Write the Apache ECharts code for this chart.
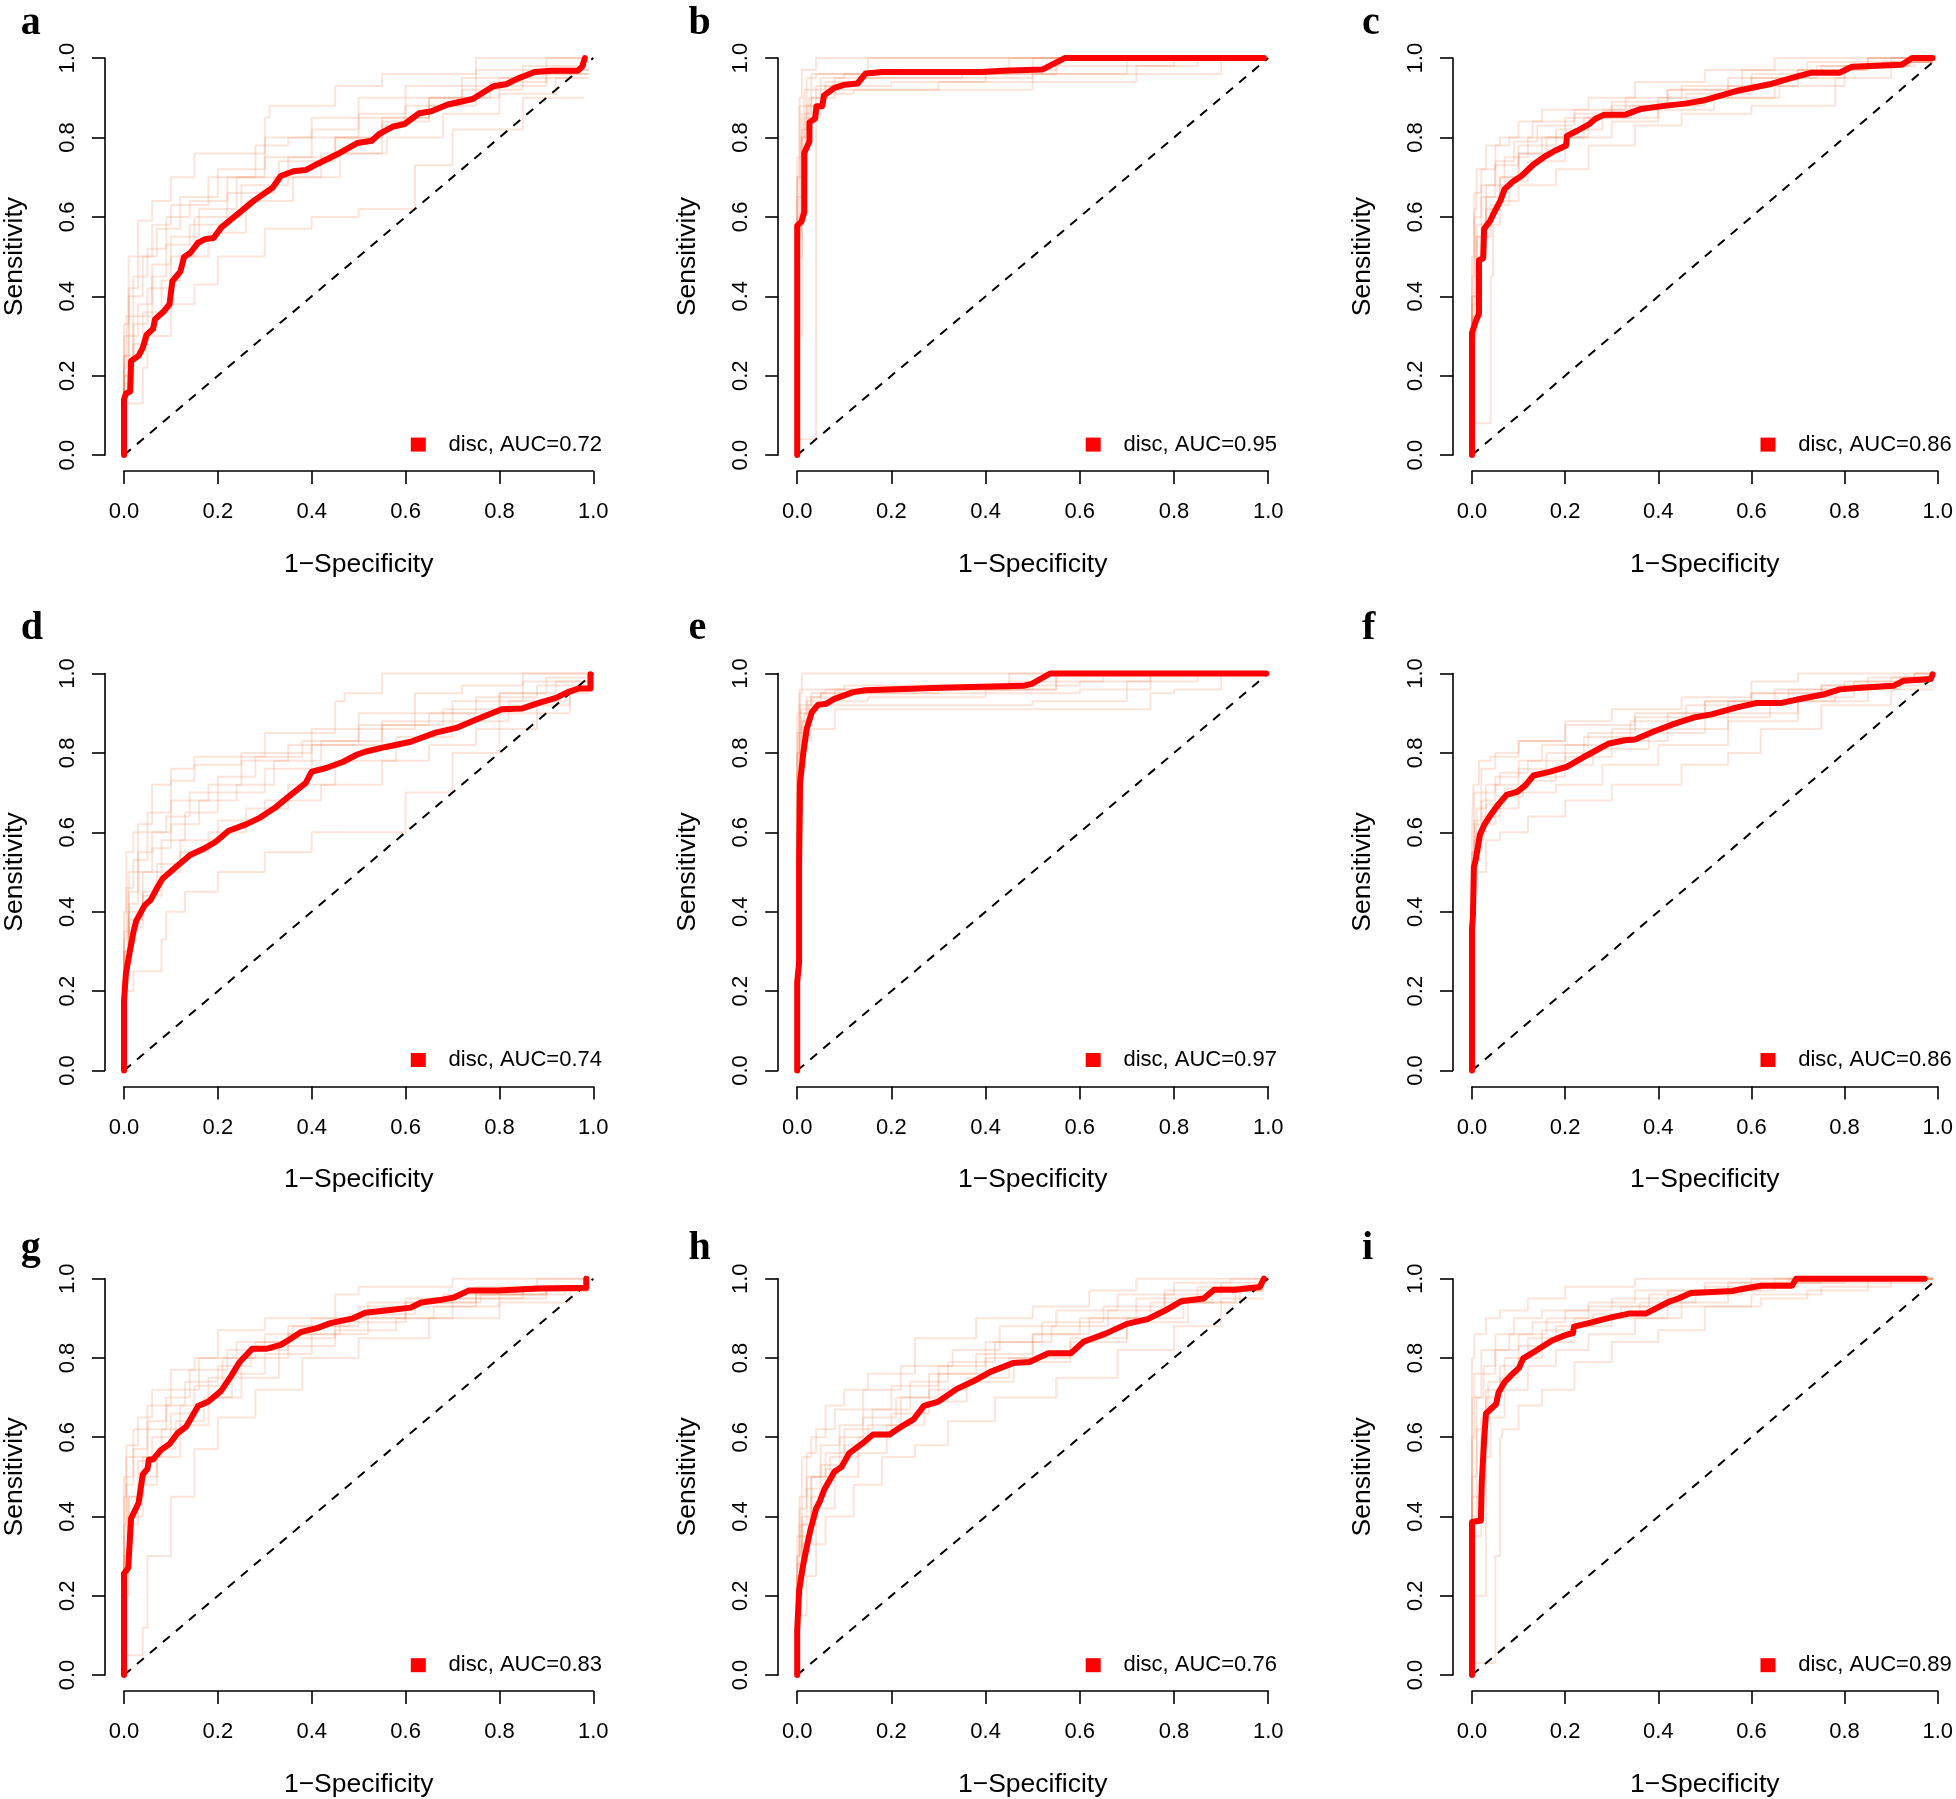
<!DOCTYPE html>
<html>
<head>
<meta charset="utf-8">
<script src="https://cdn.jsdelivr.net/npm/echarts@6/dist/echarts.min.js"></script>
<style>
html, body { margin: 0; padding: 0; background: #fff; }
#chart { width: 1956px; height: 1799px; }
</style>
</head>
<body>
<div id="chart"></div>
<script>
// panel labels and AUC values
const panelLetters = ['a', 'b', 'c', 'd', 'e', 'f', 'g', 'h', 'i'];
const aucValues = ['0.72', '0.95', '0.86', '0.74', '0.97', '0.86', '0.83', '0.76', '0.89'];

// main ROC curves, [1-specificity, sensitivity]
const rocA = [[0,0],[0,0.14],[0.004,0.155],[0.013,0.16],[0.015,0.237],[0.031,0.25],[0.04,0.27],[0.048,0.303],[0.062,0.318],[0.066,0.342],[0.084,0.361],[0.097,0.38],[0.103,0.438],[0.12,0.462],[0.128,0.499],[0.141,0.509],[0.158,0.535],[0.173,0.544],[0.191,0.547],[0.207,0.573],[0.242,0.607],[0.277,0.641],[0.317,0.674],[0.334,0.703],[0.361,0.715],[0.387,0.718],[0.413,0.734],[0.453,0.757],[0.497,0.786],[0.528,0.792],[0.545,0.81],[0.572,0.827],[0.598,0.834],[0.629,0.861],[0.655,0.866],[0.69,0.883],[0.743,0.897],[0.787,0.929],[0.814,0.934],[0.84,0.949],[0.875,0.965],[0.91,0.968],[0.967,0.968],[0.976,0.978],[0.982,1]];
const rocB = [[0,0],[0,0.578],[0.009,0.588],[0.015,0.612],[0.015,0.761],[0.026,0.79],[0.026,0.838],[0.038,0.848],[0.041,0.879],[0.053,0.879],[0.057,0.906],[0.079,0.925],[0.101,0.933],[0.128,0.936],[0.145,0.961],[0.181,0.965],[0.304,0.965],[0.392,0.965],[0.436,0.968],[0.52,0.971],[0.568,1],[0.991,1]];
const rocC = [[0,0],[0,0.308],[0.008,0.337],[0.015,0.356],[0.015,0.491],[0.024,0.496],[0.026,0.57],[0.039,0.59],[0.048,0.612],[0.061,0.641],[0.07,0.67],[0.088,0.689],[0.106,0.703],[0.132,0.732],[0.155,0.751],[0.177,0.766],[0.202,0.78],[0.204,0.804],[0.226,0.817],[0.252,0.834],[0.266,0.848],[0.283,0.857],[0.328,0.857],[0.363,0.872],[0.408,0.879],[0.461,0.886],[0.496,0.893],[0.567,0.917],[0.639,0.934],[0.683,0.949],[0.727,0.963],[0.789,0.963],[0.816,0.978],[0.923,0.983],[0.945,1],[0.989,1]];
const rocD = [[0,0],[0,0.175],[0.004,0.243],[0.011,0.291],[0.02,0.348],[0.026,0.377],[0.044,0.416],[0.057,0.43],[0.07,0.459],[0.082,0.483],[0.11,0.512],[0.141,0.543],[0.172,0.56],[0.194,0.575],[0.223,0.604],[0.26,0.62],[0.29,0.637],[0.321,0.661],[0.356,0.695],[0.387,0.724],[0.4,0.753],[0.431,0.762],[0.466,0.777],[0.497,0.796],[0.514,0.803],[0.558,0.815],[0.611,0.828],[0.664,0.851],[0.708,0.863],[0.752,0.885],[0.805,0.91],[0.849,0.912],[0.884,0.926],[0.919,0.938],[0.946,0.953],[0.968,0.962],[0.994,0.962],[0.994,0.998]];
const rocE = [[0,0],[0,0.223],[0.004,0.271],[0.004,0.512],[0.006,0.724],[0.013,0.8],[0.02,0.859],[0.031,0.902],[0.044,0.921],[0.062,0.924],[0.079,0.936],[0.119,0.953],[0.145,0.958],[0.304,0.964],[0.48,0.969],[0.498,0.974],[0.537,1],[0.996,1]];
const rocF = [[0,0],[0,0.358],[0.002,0.387],[0.004,0.512],[0.008,0.531],[0.017,0.594],[0.026,0.618],[0.039,0.642],[0.057,0.671],[0.075,0.695],[0.097,0.702],[0.115,0.719],[0.132,0.743],[0.168,0.753],[0.203,0.765],[0.239,0.789],[0.266,0.806],[0.292,0.823],[0.328,0.832],[0.35,0.834],[0.39,0.854],[0.434,0.873],[0.479,0.89],[0.514,0.897],[0.567,0.914],[0.612,0.926],[0.665,0.926],[0.701,0.935],[0.754,0.947],[0.79,0.96],[0.834,0.964],[0.905,0.969],[0.927,0.982],[0.985,0.986],[0.989,0.998]];
const rocG = [[0,0],[0,0.256],[0.009,0.27],[0.015,0.395],[0.031,0.434],[0.04,0.506],[0.05,0.52],[0.053,0.544],[0.062,0.544],[0.079,0.568],[0.097,0.583],[0.114,0.61],[0.132,0.626],[0.158,0.679],[0.18,0.69],[0.207,0.717],[0.229,0.756],[0.246,0.789],[0.273,0.823],[0.303,0.823],[0.334,0.833],[0.356,0.849],[0.378,0.866],[0.413,0.876],[0.44,0.888],[0.488,0.9],[0.514,0.914],[0.567,0.921],[0.611,0.927],[0.633,0.94],[0.673,0.946],[0.704,0.953],[0.734,0.97],[0.796,0.97],[0.884,0.975],[0.985,0.977],[0.985,1]];
const rocH = [[0,0],[0,0.112],[0.004,0.213],[0.013,0.28],[0.022,0.333],[0.028,0.366],[0.04,0.419],[0.048,0.438],[0.057,0.467],[0.079,0.513],[0.094,0.525],[0.11,0.559],[0.137,0.583],[0.161,0.607],[0.196,0.607],[0.22,0.626],[0.247,0.645],[0.269,0.679],[0.3,0.69],[0.339,0.722],[0.374,0.741],[0.41,0.765],[0.458,0.787],[0.493,0.79],[0.533,0.812],[0.581,0.812],[0.608,0.841],[0.656,0.862],[0.7,0.886],[0.744,0.898],[0.78,0.919],[0.815,0.943],[0.863,0.95],[0.885,0.972],[0.93,0.972],[0.982,0.979],[0.991,1]];
const rocI = [[0,0],[0,0.386],[0.019,0.39],[0.021,0.486],[0.026,0.592],[0.03,0.66],[0.052,0.684],[0.057,0.713],[0.07,0.739],[0.088,0.761],[0.101,0.775],[0.11,0.799],[0.137,0.818],[0.172,0.844],[0.199,0.857],[0.217,0.863],[0.219,0.879],[0.257,0.89],[0.301,0.903],[0.337,0.912],[0.373,0.912],[0.425,0.943],[0.443,0.95],[0.47,0.964],[0.559,0.969],[0.594,0.977],[0.621,0.982],[0.687,0.982],[0.696,1],[0.972,1]];

// bootstrap curves (faint)
const bootA = [
  [[0,0],[0.01,0.33],[0.03,0.5],[0.06,0.59],[0.1,0.64],[0.15,0.7],[0.3,0.76],[0.31,0.85],[0.45,0.88],[0.55,0.93],[0.75,0.96],[0.8,1],[0.98,1]],
  [[0,0],[0.01,0.25],[0.04,0.4],[0.07,0.5],[0.12,0.57],[0.2,0.65],[0.3,0.72],[0.4,0.8],[0.5,0.85],[0.6,0.9],[0.75,0.93],[0.9,0.97],[0.98,1]],
  [[0,0],[0.02,0.2],[0.05,0.33],[0.1,0.42],[0.15,0.5],[0.25,0.6],[0.35,0.68],[0.45,0.75],[0.55,0.8],[0.65,0.85],[0.8,0.9],[0.95,0.95],[0.99,0.97]],
  [[0,0],[0.04,0.13],[0.05,0.22],[0.1,0.3],[0.15,0.38],[0.2,0.43],[0.3,0.5],[0.4,0.57],[0.5,0.6],[0.62,0.62],[0.7,0.73],[0.85,0.82],[0.98,0.9]],
  [[0,0],[0.01,0.3],[0.03,0.42],[0.06,0.5],[0.1,0.58],[0.18,0.63],[0.28,0.7],[0.35,0.78],[0.5,0.8],[0.65,0.85],[0.75,0.88],[0.9,0.93],[0.99,0.96]],
  [[0,0],[0.02,0.25],[0.06,0.35],[0.09,0.45],[0.14,0.53],[0.22,0.58],[0.32,0.66],[0.42,0.7],[0.55,0.76],[0.6,0.83],[0.72,0.88],[0.85,0.95],[0.99,0.98]],
  [[0,0],[0.01,0.2],[0.03,0.3],[0.06,0.38],[0.1,0.48],[0.16,0.55],[0.24,0.62],[0.33,0.7],[0.45,0.74],[0.55,0.8],[0.65,0.84],[0.78,0.9],[0.9,0.94],[0.99,0.97]],
  [[0,0],[0.005,0.22],[0.02,0.35],[0.05,0.45],[0.09,0.52],[0.14,0.6],[0.22,0.64],[0.3,0.7],[0.4,0.75],[0.5,0.82],[0.6,0.86],[0.72,0.9],[0.85,0.92],[0.99,0.96]],
  [[0,0],[0.02,0.18],[0.04,0.28],[0.08,0.36],[0.12,0.44],[0.18,0.5],[0.26,0.56],[0.36,0.64],[0.46,0.7],[0.56,0.76],[0.68,0.8],[0.8,0.86],[0.92,0.91],[0.99,0.95]]
];
const bootB = [
  [[0,0],[0.005,0.6],[0.01,0.9],[0.04,0.97],[0.05,1],[0.99,1]],
  [[0,0],[0.01,0.5],[0.02,0.82],[0.06,0.88],[0.1,0.93],[0.2,0.93],[0.4,0.94],[0.55,0.96],[0.7,0.98],[0.8,1]],
  [[0,0],[0.04,0.04],[0.04,0.7],[0.05,0.85],[0.08,0.9],[0.15,0.92],[0.5,0.92],[0.6,0.96],[0.9,0.96],[0.95,1]],
  [[0,0],[0.01,0.3],[0.015,0.8],[0.03,0.92],[0.1,0.96],[0.5,0.96],[0.6,1],[0.99,1]],
  [[0,0],[0.015,0.65],[0.03,0.85],[0.05,0.9],[0.12,0.91],[0.3,0.92],[0.45,0.94],[0.72,0.94],[0.8,0.98],[0.9,1]],
  [[0,0],[0.005,0.7],[0.02,0.88],[0.04,0.95],[0.15,0.96],[0.2,1],[0.99,1]],
  [[0,0],[0.01,0.75],[0.03,0.86],[0.06,0.92],[0.14,0.94],[0.35,0.95],[0.55,0.97],[0.65,1],[0.99,1]],
  [[0,0],[0.02,0.7],[0.04,0.88],[0.08,0.93],[0.2,0.95],[0.5,0.95],[0.7,0.96],[0.85,0.98],[0.9,1]],
  [[0,0],[0.008,0.55],[0.025,0.8],[0.05,0.9],[0.1,0.95],[0.3,0.96],[0.45,0.96],[0.5,1],[0.99,1]]
];
const bootC = [
  [[0,0],[0.005,0.45],[0.01,0.62],[0.03,0.72],[0.06,0.78],[0.1,0.8],[0.15,0.84],[0.25,0.87],[0.35,0.9],[0.5,0.94],[0.65,0.97],[0.8,1],[0.99,1]],
  [[0,0],[0.01,0.3],[0.02,0.55],[0.05,0.65],[0.1,0.73],[0.18,0.78],[0.28,0.82],[0.4,0.87],[0.55,0.9],[0.7,0.93],[0.85,0.97],[0.99,0.99]],
  [[0,0],[0.04,0.08],[0.045,0.45],[0.06,0.58],[0.1,0.64],[0.18,0.68],[0.25,0.72],[0.35,0.78],[0.45,0.83],[0.6,0.86],[0.78,0.88],[0.9,0.95],[0.99,0.99]],
  [[0,0],[0.01,0.4],[0.03,0.58],[0.07,0.68],[0.12,0.75],[0.2,0.8],[0.3,0.85],[0.42,0.88],[0.6,0.92],[0.75,0.96],[0.9,0.98],[0.99,1]],
  [[0,0],[0.015,0.35],[0.03,0.5],[0.06,0.62],[0.1,0.7],[0.15,0.76],[0.25,0.8],[0.4,0.85],[0.5,0.88],[0.65,0.9],[0.8,0.93],[0.95,0.98],[0.99,0.99]],
  [[0,0],[0.005,0.5],[0.02,0.66],[0.05,0.72],[0.08,0.78],[0.13,0.8],[0.22,0.84],[0.33,0.87],[0.45,0.9],[0.58,0.93],[0.72,0.97],[0.85,0.99],[0.99,1]],
  [[0,0],[0.01,0.38],[0.03,0.55],[0.06,0.65],[0.1,0.7],[0.16,0.76],[0.24,0.8],[0.34,0.85],[0.46,0.88],[0.6,0.91],[0.74,0.95],[0.88,0.98],[0.99,0.99]],
  [[0,0],[0.005,0.35],[0.02,0.6],[0.05,0.68],[0.09,0.74],[0.14,0.79],[0.22,0.83],[0.3,0.86],[0.42,0.89],[0.55,0.92],[0.7,0.95],[0.85,0.97],[0.99,1]],
  [[0,0],[0.02,0.4],[0.04,0.55],[0.08,0.63],[0.12,0.69],[0.2,0.74],[0.3,0.8],[0.4,0.84],[0.52,0.87],[0.66,0.9],[0.8,0.95],[0.94,0.98],[0.99,0.99]]
];
const bootD = [
  [[0,0],[0.01,0.3],[0.03,0.5],[0.06,0.62],[0.1,0.72],[0.15,0.76],[0.3,0.79],[0.45,0.85],[0.47,0.93],[0.55,0.95],[0.75,1],[0.99,1]],
  [[0,0],[0.01,0.25],[0.04,0.4],[0.08,0.5],[0.13,0.58],[0.2,0.65],[0.3,0.7],[0.4,0.76],[0.55,0.82],[0.7,0.88],[0.85,0.93],[0.99,0.98]],
  [[0,0],[0.02,0.2],[0.08,0.25],[0.09,0.33],[0.13,0.4],[0.2,0.45],[0.3,0.5],[0.4,0.55],[0.5,0.6],[0.6,0.6],[0.7,0.7],[0.8,0.8],[0.95,0.9],[0.99,0.95]],
  [[0,0],[0.01,0.35],[0.03,0.45],[0.06,0.55],[0.1,0.6],[0.18,0.68],[0.25,0.72],[0.35,0.78],[0.5,0.82],[0.65,0.87],[0.8,0.9],[0.9,0.95],[0.99,0.99]],
  [[0,0],[0.01,0.3],[0.04,0.38],[0.07,0.45],[0.12,0.52],[0.2,0.58],[0.3,0.63],[0.42,0.68],[0.55,0.72],[0.65,0.78],[0.75,0.82],[0.88,0.86],[0.95,0.92],[0.99,0.96]],
  [[0,0],[0.005,0.4],[0.02,0.55],[0.05,0.6],[0.1,0.65],[0.15,0.73],[0.25,0.77],[0.4,0.8],[0.5,0.86],[0.62,0.9],[0.72,0.95],[0.85,0.97],[0.99,1]],
  [[0,0],[0.01,0.3],[0.03,0.42],[0.06,0.5],[0.1,0.56],[0.16,0.62],[0.24,0.68],[0.32,0.72],[0.42,0.78],[0.55,0.83],[0.68,0.87],[0.8,0.91],[0.92,0.95],[0.99,0.98]],
  [[0,0],[0.005,0.33],[0.02,0.46],[0.05,0.53],[0.09,0.6],[0.14,0.64],[0.2,0.7],[0.28,0.74],[0.38,0.79],[0.5,0.83],[0.62,0.86],[0.75,0.9],[0.88,0.94],[0.99,0.97]],
  [[0,0],[0.01,0.28],[0.04,0.36],[0.08,0.44],[0.12,0.5],[0.18,0.55],[0.26,0.6],[0.35,0.66],[0.45,0.72],[0.58,0.78],[0.7,0.84],[0.82,0.88],[0.94,0.93],[0.99,0.96]]
];
const bootE = [
  [[0,0],[0.005,0.7],[0.01,0.95],[0.02,1],[0.99,1]],
  [[0,0],[0.005,0.5],[0.015,0.85],[0.04,0.9],[0.1,0.92],[0.3,0.92],[0.5,0.92],[0.7,0.93],[0.75,0.96],[0.8,1]],
  [[0,0],[0.01,0.6],[0.02,0.88],[0.05,0.94],[0.15,0.95],[0.4,0.95],[0.55,0.96],[0.6,1],[0.99,1]],
  [[0,0],[0.005,0.8],[0.03,0.92],[0.06,0.95],[0.3,0.96],[0.55,0.96],[0.65,0.98],[0.7,1],[0.99,1]],
  [[0,0],[0.01,0.65],[0.03,0.83],[0.08,0.86],[0.1,0.91],[0.35,0.91],[0.6,0.91],[0.75,0.91],[0.8,0.95],[0.9,0.96],[0.95,1]],
  [[0,0],[0.005,0.9],[0.02,0.96],[0.1,0.96],[0.2,0.97],[0.45,0.97],[0.5,1],[0.99,1]],
  [[0,0],[0.005,0.75],[0.02,0.9],[0.05,0.93],[0.12,0.95],[0.3,0.95],[0.5,0.96],[0.6,0.97],[0.75,0.98],[0.8,1]],
  [[0,0],[0.008,0.85],[0.03,0.91],[0.08,0.94],[0.2,0.96],[0.45,0.96],[0.55,0.98],[0.6,1],[0.99,1]],
  [[0,0],[0.01,0.8],[0.025,0.88],[0.06,0.92],[0.15,0.93],[0.4,0.94],[0.6,0.95],[0.7,0.96],[0.85,0.98],[0.9,1]]
];
const bootF = [
  [[0,0],[0.005,0.55],[0.02,0.7],[0.05,0.76],[0.1,0.8],[0.2,0.83],[0.3,0.88],[0.45,0.91],[0.6,0.94],[0.7,0.98],[0.8,1],[0.99,1]],
  [[0,0],[0.005,0.4],[0.02,0.55],[0.05,0.62],[0.1,0.66],[0.18,0.7],[0.28,0.72],[0.4,0.77],[0.55,0.82],[0.7,0.88],[0.85,0.93],[0.99,0.97]],
  [[0,0],[0.01,0.45],[0.03,0.5],[0.06,0.58],[0.12,0.6],[0.2,0.64],[0.3,0.68],[0.45,0.72],[0.55,0.77],[0.62,0.8],[0.75,0.86],[0.9,0.92],[0.99,0.96]],
  [[0,0],[0.005,0.5],[0.02,0.63],[0.05,0.7],[0.1,0.74],[0.15,0.78],[0.25,0.82],[0.35,0.85],[0.5,0.89],[0.65,0.93],[0.8,0.96],[0.95,0.98],[0.99,1]],
  [[0,0],[0.01,0.52],[0.03,0.6],[0.07,0.67],[0.12,0.71],[0.2,0.74],[0.3,0.79],[0.42,0.83],[0.55,0.86],[0.7,0.9],[0.82,0.94],[0.92,0.97],[0.99,0.99]],
  [[0,0],[0.003,0.6],[0.015,0.72],[0.04,0.78],[0.1,0.79],[0.2,0.83],[0.35,0.87],[0.5,0.9],[0.6,0.93],[0.75,0.95],[0.85,0.97],[0.99,0.99]],
  [[0,0],[0.005,0.48],[0.02,0.62],[0.05,0.68],[0.1,0.72],[0.16,0.76],[0.24,0.8],[0.34,0.84],[0.46,0.88],[0.6,0.92],[0.75,0.95],[0.9,0.97],[0.99,0.99]],
  [[0,0],[0.01,0.55],[0.03,0.66],[0.06,0.72],[0.12,0.75],[0.2,0.78],[0.3,0.82],[0.42,0.86],[0.55,0.9],[0.68,0.93],[0.82,0.96],[0.95,0.98],[0.99,1]],
  [[0,0],[0.005,0.45],[0.025,0.58],[0.06,0.64],[0.11,0.69],[0.18,0.73],[0.26,0.77],[0.38,0.81],[0.5,0.85],[0.64,0.89],[0.78,0.93],[0.92,0.96],[0.99,0.98]]
];
const bootG = [
  [[0,0],[0.005,0.45],[0.03,0.58],[0.06,0.65],[0.1,0.72],[0.15,0.77],[0.2,0.8],[0.3,0.87],[0.45,0.9],[0.5,0.96],[0.7,0.98],[0.78,1],[0.99,1]],
  [[0,0],[0.01,0.3],[0.04,0.45],[0.08,0.55],[0.12,0.62],[0.18,0.68],[0.25,0.75],[0.35,0.8],[0.45,0.85],[0.6,0.9],[0.75,0.94],[0.9,0.96],[0.99,0.98]],
  [[0,0],[0.04,0.05],[0.05,0.12],[0.1,0.3],[0.1,0.34],[0.15,0.45],[0.2,0.57],[0.28,0.65],[0.38,0.72],[0.5,0.8],[0.65,0.85],[0.8,0.9],[0.95,0.94],[0.99,0.97]],
  [[0,0],[0.005,0.35],[0.02,0.48],[0.05,0.55],[0.09,0.62],[0.14,0.7],[0.22,0.77],[0.3,0.82],[0.4,0.86],[0.52,0.9],[0.68,0.94],[0.85,0.96],[0.99,0.97]],
  [[0,0],[0.01,0.2],[0.03,0.38],[0.07,0.48],[0.12,0.55],[0.18,0.63],[0.25,0.7],[0.33,0.75],[0.45,0.83],[0.58,0.87],[0.7,0.9],[0.85,0.95],[0.99,0.97]],
  [[0,0],[0.005,0.5],[0.02,0.55],[0.05,0.62],[0.1,0.68],[0.16,0.72],[0.24,0.8],[0.35,0.84],[0.5,0.88],[0.6,0.93],[0.75,0.95],[0.88,0.98],[0.99,1]],
  [[0,0],[0.01,0.3],[0.03,0.45],[0.06,0.54],[0.1,0.6],[0.15,0.66],[0.21,0.73],[0.28,0.8],[0.36,0.84],[0.48,0.88],[0.62,0.91],[0.76,0.94],[0.9,0.96],[0.99,0.98]],
  [[0,0],[0.005,0.38],[0.02,0.5],[0.05,0.57],[0.09,0.64],[0.13,0.68],[0.2,0.74],[0.27,0.78],[0.35,0.82],[0.46,0.86],[0.6,0.89],[0.75,0.93],[0.9,0.95],[0.99,0.97]],
  [[0,0],[0.01,0.25],[0.04,0.4],[0.07,0.5],[0.11,0.57],[0.17,0.64],[0.23,0.7],[0.3,0.76],[0.4,0.81],[0.52,0.86],[0.66,0.9],[0.8,0.93],[0.94,0.96],[0.99,0.98]]
];
const bootH = [
  [[0,0],[0.01,0.35],[0.03,0.55],[0.06,0.6],[0.1,0.68],[0.15,0.72],[0.25,0.76],[0.38,0.85],[0.5,0.9],[0.62,0.93],[0.72,0.97],[0.8,1],[0.99,1]],
  [[0,0],[0.01,0.2],[0.03,0.35],[0.06,0.45],[0.1,0.52],[0.15,0.58],[0.22,0.63],[0.3,0.7],[0.4,0.76],[0.5,0.8],[0.6,0.86],[0.72,0.9],[0.85,0.95],[0.99,0.98]],
  [[0,0],[0.02,0.15],[0.04,0.25],[0.06,0.33],[0.12,0.4],[0.18,0.48],[0.25,0.55],[0.32,0.58],[0.42,0.64],[0.55,0.7],[0.68,0.75],[0.8,0.82],[0.9,0.88],[0.99,0.95]],
  [[0,0],[0.005,0.25],[0.02,0.42],[0.05,0.5],[0.09,0.58],[0.14,0.63],[0.2,0.67],[0.3,0.73],[0.4,0.78],[0.52,0.84],[0.65,0.89],[0.78,0.93],[0.9,0.97],[0.99,0.99]],
  [[0,0],[0.01,0.28],[0.03,0.38],[0.07,0.5],[0.13,0.55],[0.2,0.6],[0.28,0.66],[0.36,0.72],[0.45,0.75],[0.58,0.8],[0.7,0.85],[0.82,0.9],[0.93,0.94],[0.99,0.97]],
  [[0,0],[0.005,0.3],[0.02,0.45],[0.04,0.56],[0.08,0.62],[0.14,0.67],[0.22,0.72],[0.33,0.78],[0.43,0.82],[0.55,0.88],[0.68,0.92],[0.8,0.96],[0.92,0.99],[0.99,1]],
  [[0,0],[0.01,0.25],[0.03,0.4],[0.06,0.5],[0.1,0.56],[0.16,0.62],[0.24,0.67],[0.32,0.74],[0.42,0.79],[0.54,0.84],[0.66,0.88],[0.78,0.92],[0.9,0.96],[0.99,0.98]],
  [[0,0],[0.005,0.3],[0.02,0.38],[0.05,0.47],[0.09,0.53],[0.14,0.6],[0.21,0.65],[0.28,0.7],[0.38,0.76],[0.5,0.81],[0.62,0.86],[0.75,0.9],[0.88,0.94],[0.99,0.97]],
  [[0,0],[0.01,0.22],[0.04,0.33],[0.08,0.42],[0.13,0.5],[0.19,0.56],[0.27,0.63],[0.36,0.69],[0.46,0.74],[0.58,0.79],[0.7,0.84],[0.83,0.89],[0.94,0.94],[0.99,0.97]]
];
const bootI = [
  [[0,0],[0.005,0.8],[0.03,0.86],[0.06,0.9],[0.12,0.92],[0.2,0.95],[0.35,0.98],[0.45,1],[0.99,1]],
  [[0,0],[0.01,0.5],[0.02,0.7],[0.05,0.76],[0.1,0.82],[0.16,0.86],[0.25,0.9],[0.38,0.93],[0.5,0.96],[0.65,0.98],[0.8,1],[0.99,1]],
  [[0,0],[0.05,0.03],[0.06,0.3],[0.065,0.6],[0.1,0.62],[0.15,0.68],[0.22,0.72],[0.3,0.79],[0.4,0.84],[0.5,0.87],[0.62,0.93],[0.72,0.95],[0.85,0.97],[0.99,0.99]],
  [[0,0],[0.02,0.35],[0.03,0.6],[0.06,0.7],[0.1,0.75],[0.15,0.8],[0.22,0.84],[0.3,0.88],[0.42,0.9],[0.55,0.94],[0.65,0.97],[0.8,0.99],[0.99,1]],
  [[0,0],[0.03,0.2],[0.04,0.55],[0.07,0.65],[0.12,0.72],[0.18,0.78],[0.25,0.82],[0.35,0.86],[0.45,0.9],[0.6,0.93],[0.75,0.96],[0.9,0.98],[0.99,1]],
  [[0,0],[0.005,0.7],[0.02,0.76],[0.05,0.82],[0.09,0.86],[0.15,0.9],[0.25,0.92],[0.35,0.94],[0.5,0.97],[0.6,0.99],[0.7,1],[0.99,1]],
  [[0,0],[0.01,0.4],[0.03,0.62],[0.06,0.72],[0.1,0.78],[0.15,0.83],[0.22,0.87],[0.32,0.9],[0.45,0.93],[0.58,0.96],[0.7,0.98],[0.85,0.99],[0.99,1]],
  [[0,0],[0.02,0.45],[0.035,0.65],[0.07,0.74],[0.12,0.8],[0.18,0.85],[0.26,0.88],[0.36,0.91],[0.48,0.94],[0.62,0.97],[0.75,0.99],[0.9,1],[0.99,1]],
  [[0,0],[0.005,0.6],[0.025,0.7],[0.05,0.78],[0.08,0.82],[0.13,0.86],[0.2,0.89],[0.3,0.92],[0.42,0.95],[0.55,0.97],[0.68,0.99],[0.8,1],[0.99,1]]
];

const rocCurves = [rocA, rocB, rocC, rocD, rocE, rocF, rocG, rocH, rocI];
const bootCurves = [bootA, bootB, bootC, bootD, bootE, bootF, bootG, bootH, bootI];

// layout (pixels)
const colLeft = [122.3, 797.2, 1472];
const rowTop = [58.1, 673.5, 1278.7];
const plotW = 471;
const plotH = 397;
const letterBase = [37.5, 642, 1262];
const letterLeft = [20.7, 688.5, 1362];

const sansFont = '"Liberation Sans", Arial, Helvetica, sans-serif';

const grids = [], xAxes = [], yAxes = [], series = [], graphic = [];

for(let i = 0; i < 9; i++){
	const col = i % 3;
	const row = Math.floor(i / 3);
	const left = colLeft[col];
	const top = rowTop[row];

	grids.push({ left: left, top: top, width: plotW, height: plotH });

	xAxes.push({
		gridIndex: i,
		type: 'value',
		min: 0,
		max: 1,
		interval: 0.2,
		offset: 16,
		axisLine: { show: true, onZero: false, lineStyle: { color: '#000', width: 1.6 } },
		axisTick: { show: true, length: 13, lineStyle: { color: '#000', width: 1.6 } },
		axisLabel: { margin: 30, fontSize: 22, color: '#000', fontFamily: sansFont, formatter: v => v.toFixed(1) },
		splitLine: { show: false },
		name: '1\u2212Specificity',
		nameLocation: 'middle',
		nameGap: 80,
		nameTextStyle: { fontSize: 26.5, color: '#000', fontFamily: sansFont },
	});

	yAxes.push({
		gridIndex: i,
		type: 'value',
		min: 0,
		max: 1,
		interval: 0.2,
		offset: 19,
		axisLine: { show: true, onZero: false, lineStyle: { color: '#000', width: 1.6 } },
		axisTick: { show: true, length: 13, lineStyle: { color: '#000', width: 1.6 } },
		axisLabel: { margin: 26, rotate: 90, fontSize: 22, color: '#000', fontFamily: sansFont, formatter: v => v.toFixed(1) },
		splitLine: { show: false },
		name: 'Sensitivity',
		nameLocation: 'middle',
		nameGap: 77,
		nameTextStyle: { fontSize: 26.5, color: '#000', fontFamily: sansFont },
	});

	// faint bootstrap curves
	for(const curve of bootCurves[i]){
		series.push({
			type: 'line',
			xAxisIndex: i,
			yAxisIndex: i,
			data: curve,
			step: 'start',
			symbol: 'none',
			silent: true,
			clip: false,
			z: 1,
			lineStyle: { color: 'rgba(238, 120, 70, 0.2)', width: 2 },
		});
	}

	// chance diagonal
	series.push({
		type: 'line',
		xAxisIndex: i,
		yAxisIndex: i,
		data: [[0, 0], [1, 1]],
		symbol: 'none',
		silent: true,
		z: 2,
		lineStyle: { color: '#000', width: 2, type: [9, 8] },
	});

	// main ROC curve
	series.push({
		type: 'line',
		name: `disc, AUC=${aucValues[i]}`,
		xAxisIndex: i,
		yAxisIndex: i,
		data: rocCurves[i],
		symbol: 'none',
		silent: true,
		clip: false,
		z: 3,
		lineStyle: { color: '#ff0000', width: 6, cap: 'round', join: 'round' },
	});

	// legend: red square + text, bottom right of the panel
	const x1 = left + plotW;
	const y0 = top + plotH;
	graphic.push({
		type: 'rect',
		shape: { x: x1 - 182.5, y: y0 - 17.5, width: 15, height: 14 },
		style: { fill: '#ff0000' },
	});
	graphic.push({
		type: 'text',
		x: x1 + 8.7,
		y: y0 - 10.6,
		style: { text: `disc, AUC=${aucValues[i]}`, font: `22px ${sansFont}`, fill: '#000', align: 'right', verticalAlign: 'middle' },
	});

	// panel letter
	graphic.push({
		type: 'text',
		x: letterLeft[col],
		y: letterBase[row] - 13.5,
		style: { text: panelLetters[i], font: 'bold 40px "Liberation Serif", "Times New Roman", serif', fill: '#000', align: 'left', verticalAlign: 'middle' },
	});
}

const chart = echarts.init(document.getElementById('chart'));
chart.setOption({
	animation: false,
	backgroundColor: '#fff',
	grid: grids,
	xAxis: xAxes,
	yAxis: yAxes,
	series: series,
	graphic: graphic,
});
</script>
</body>
</html>
